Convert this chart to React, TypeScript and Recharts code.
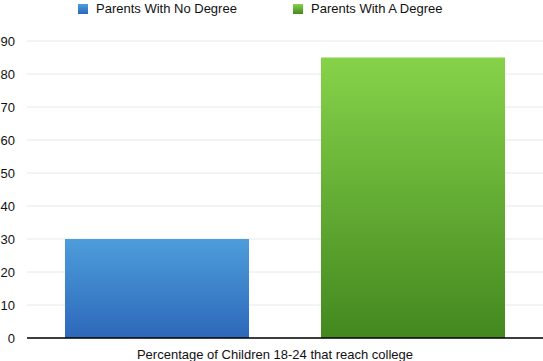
import React from 'react';
import { BarChart, Bar, XAxis, YAxis, CartesianGrid, Legend } from 'recharts';

const categories = ['Percentage of Children 18-24 that reach college'];
const noDegreeValues = [30];
const degreeValues = [85];
const yTicks = [0, 10, 20, 30, 40, 50, 60, 70, 80, 90];

const seriesInfo = [
  { key: 'noDegree', name: 'Parents With No Degree', grad: 'gradBlue' },
  { key: 'degree', name: 'Parents With A Degree', grad: 'gradGreen' },
];

const data = categories.map((c, i) => ({
  name: c,
  noDegree: noDegreeValues[i],
  degree: degreeValues[i],
}));

const font = 'Liberation Sans, Arial, Helvetica, sans-serif';

const LegendBox = () => (
  <div style={{ height: 20, position: 'relative', fontFamily: font, fontSize: 13, color: '#111' }}>
    {seriesInfo.map((s, i) => (
      <div key={s.key} style={{ position: 'absolute', left: i === 0 ? 78 : 293, top: 1, display: 'flex', alignItems: 'center' }}>
        <svg width={10} height={10} style={{ marginRight: 8 }}>
          <rect width={10} height={10} fill={`url(#${s.grad}L)`} />
        </svg>
        <span>{s.name}</span>
      </div>
    ))}
  </div>
);

export default function App() {
  return (
    <div style={{ position: 'absolute', left: 0, top: 0, width: 543, height: 361, background: '#fff' }}>
      <svg width={0} height={0} style={{ position: 'absolute' }}>
        <defs>
          <linearGradient id="gradBlueL" x1="0" y1="0" x2="0" y2="1">
            <stop offset="0%" stopColor="#4d9ddb" />
            <stop offset="100%" stopColor="#2d68ba" />
          </linearGradient>
          <linearGradient id="gradGreenL" x1="0" y1="0" x2="0" y2="1">
            <stop offset="0%" stopColor="#86d34a" />
            <stop offset="100%" stopColor="#43881f" />
          </linearGradient>
        </defs>
      </svg>
      <BarChart
        width={543}
        height={361}
        data={data}
        margin={{ top: 21, right: 0, bottom: 0, left: 0 }}
        barCategoryGap={38}
        barGap={72}
      >
        <defs>
          <linearGradient id="gradBlue" x1="0" y1="0" x2="0" y2="1">
            <stop offset="0%" stopColor="#4d9ddb" />
            <stop offset="100%" stopColor="#2d68ba" />
          </linearGradient>
          <linearGradient id="gradGreen" x1="0" y1="0" x2="0" y2="1">
            <stop offset="0%" stopColor="#86d34a" />
            <stop offset="100%" stopColor="#43881f" />
          </linearGradient>
        </defs>
        <Legend
          verticalAlign="top"
          height={20}
          wrapperStyle={{ top: 0, left: 0, width: 543 }}
          content={<LegendBox />}
        />
        <CartesianGrid vertical={false} stroke="#e8e8e8" />
        <XAxis
          dataKey="name"
          height={23}
          tickLine={false}
          tickMargin={6}
          axisLine={{ stroke: '#000', strokeWidth: 1.5 }}
          tick={{ fill: '#111', fontSize: 13, fontFamily: font, dx: -10 }}
        />
        <YAxis
          width={27}
          domain={[0, 90]}
          ticks={yTicks}
          axisLine={false}
          tickLine={false}
          tickMargin={6}
          tick={{ fill: '#111', fontSize: 13, fontFamily: font }}
        />
        {seriesInfo.map((s) => (
          <Bar key={s.key} dataKey={s.key} name={s.name} fill={`url(#${s.grad})`} isAnimationActive={false} />
        ))}
      </BarChart>
    </div>
  );
}
